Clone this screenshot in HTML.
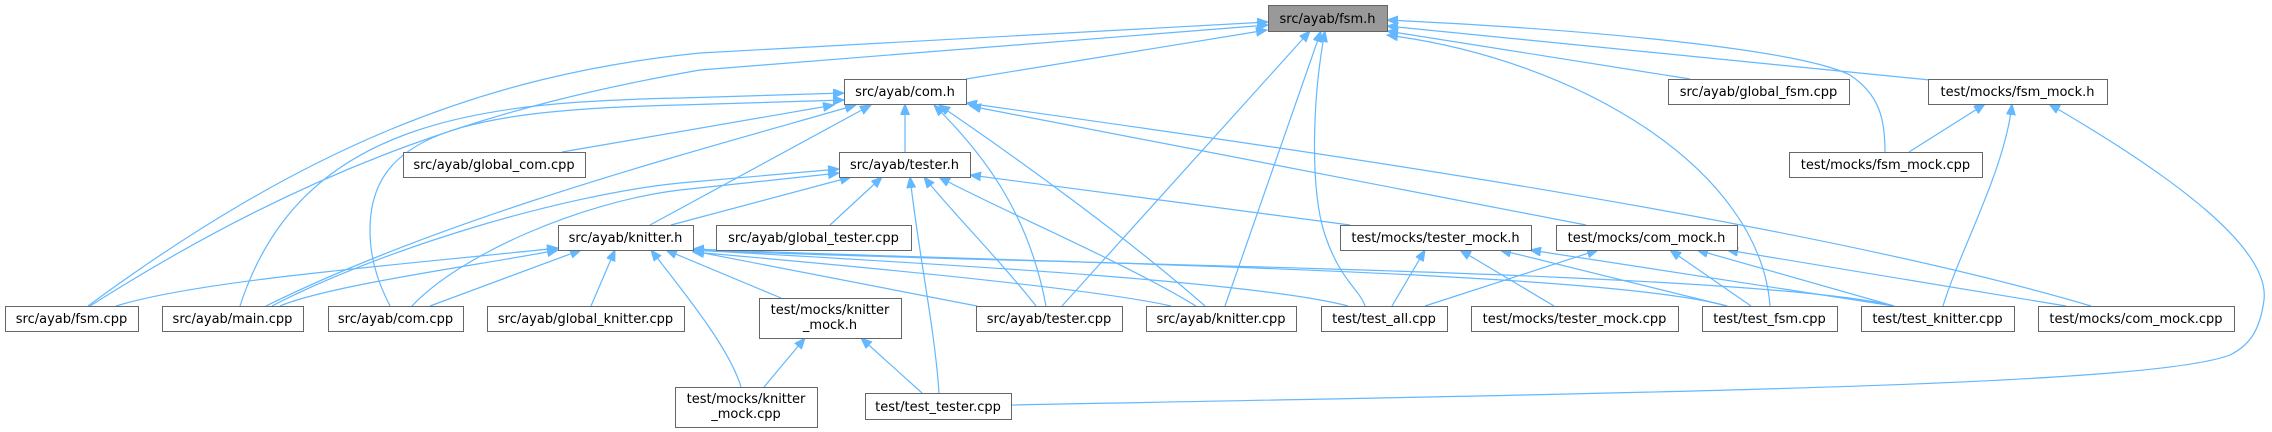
<!DOCTYPE html>
<html><head><meta charset="utf-8"><style>
html,body{margin:0;padding:0;background:#fff;}
svg{display:block;}
text{font-family:"DejaVu Sans","Liberation Sans",sans-serif;font-size:13px;fill:#000;}
</style></head><body>
<svg width="2272" height="432" viewBox="0 0 2272 432" xmlns="http://www.w3.org/2000/svg">
<defs>
<marker id="a" markerUnits="userSpaceOnUse" markerWidth="12" markerHeight="10" refX="11" refY="4.5" orient="auto-start-reverse" viewBox="0 0 12 10">
<path d="M0,0 L11,4.5 L0,9 z" fill="#63b8ff" stroke="#63b8ff" stroke-width="1"/>
</marker>
</defs>
<rect width="2272" height="432" fill="#fff"/>
<g fill="none" stroke="#63b8ff" stroke-width="1.2" marker-start="url(#a)">
<path d="M1267,30 L966,79"/>
<path d="M1268,22 L700,53 C480,75 300,150 88,306"/>
<path d="M1268,25 L700,70 C500,105 320,160 90,306"/>
<path d="M1310,31 L1062,306"/>
<path d="M1321,31 L1225,306"/>
<path d="M1325,31 C1312,100 1310,190 1325,235 S1360,290 1365,306"/>
<path d="M1387,20 C1600,30 1800,50 1850,75 C1880,95 1885,120 1885,152"/>
<path d="M1387,26 L1930,80"/>
<path d="M1387,31 L1690,79"/>
<path d="M1387,35 C1580,60 1760,170 1770,306"/>
<path d="M844,93 L680,98 C480,102 300,120 240,306"/>
<path d="M844,100 L680,105 C460,110 370,135 370,230 C370,265 382,290 390,306"/>
<path d="M834,105 L562,152"/>
<path d="M856,105 C700,150 450,215 266,306"/>
<path d="M905,104 L905,152"/>
<path d="M871,105 L650,225"/>
<path d="M934,105 C990,160 1030,220 1046,306"/>
<path d="M939,105 C1020,160 1130,240 1205,306"/>
<path d="M966,103 C1300,150 1800,220 2091,306"/>
<path d="M970,106 L1586,225"/>
<path d="M839,169 L680,183 C560,195 380,250 272,306"/>
<path d="M839,173 L680,190 C580,202 460,255 412,306"/>
<path d="M851,177 L671,225"/>
<path d="M882,177 L830,225"/>
<path d="M910,177 C918,250 935,330 939,393"/>
<path d="M924,177 C950,210 1000,260 1036,306"/>
<path d="M939,177 C1000,210 1120,260 1196,306"/>
<path d="M970,175 L1350,225"/>
<path d="M558,248 C400,265 200,280 116,306"/>
<path d="M558,250 C480,265 330,285 280,306"/>
<path d="M581,250 L430,306"/>
<path d="M615,250 L591,306"/>
<path d="M651,250 C690,300 730,350 741,387"/>
<path d="M666,250 L781,298"/>
<path d="M693,251 L977,306"/>
<path d="M693,252 C900,270 1100,290 1171,306"/>
<path d="M693,250 C900,262 1250,280 1348,306"/>
<path d="M693,249 C1000,262 1600,270 1727,306"/>
<path d="M693,250 C1000,264 1750,270 1894,306"/>
<path d="M1425,250 L1392,306"/>
<path d="M1460,250 L1554,306"/>
<path d="M1500,250 L1727,306"/>
<path d="M1530,250 L1894,306"/>
<path d="M1598,250 L1425,306"/>
<path d="M1670,250 L1751,306"/>
<path d="M1697,250 L1894,306"/>
<path d="M1727,250 L2066,306"/>
<path d="M1985,104 L1909,152"/>
<path d="M2012,104 C2005,170 1960,250 1943,306"/>
<path d="M2049,104 C2180,180 2270,250 2264,300 C2260,330 2250,345 2230,355 C2150,385 1700,392 1011,405"/>
<path d="M805,338 L764,387"/>
<path d="M861,338 L922,393"/>
</g>
<g fill="#fff" stroke="#666" stroke-width="1">
<rect x="1268.5" y="5.5" width="119" height="26" fill="#999"/>
<rect x="844.5" y="79.5" width="122" height="25"/>
<rect x="1668.5" y="79.5" width="181" height="25"/>
<rect x="1928.5" y="79.5" width="179" height="25"/>
<rect x="839.5" y="152.5" width="131" height="25"/>
<rect x="403.5" y="152.5" width="182" height="25"/>
<rect x="1789.5" y="152.5" width="193" height="25"/>
<rect x="558.5" y="225.5" width="135" height="25"/>
<rect x="716.5" y="225.5" width="195" height="25"/>
<rect x="1340.5" y="225.5" width="191" height="25"/>
<rect x="1556.5" y="225.5" width="181" height="25"/>
<rect x="5.5" y="306.5" width="133" height="25"/>
<rect x="162.5" y="306.5" width="141" height="25"/>
<rect x="328.5" y="306.5" width="135" height="25"/>
<rect x="487.5" y="306.5" width="197" height="25"/>
<rect x="759.5" y="298.5" width="142" height="40"/>
<rect x="976.5" y="306.5" width="146" height="25"/>
<rect x="1146.5" y="306.5" width="150" height="25"/>
<rect x="1321.5" y="306.5" width="126" height="25"/>
<rect x="1471.5" y="306.5" width="207" height="25"/>
<rect x="1702.5" y="306.5" width="135" height="25"/>
<rect x="1861.5" y="306.5" width="153" height="25"/>
<rect x="2038.5" y="306.5" width="196" height="25"/>
<rect x="675.5" y="387.5" width="142" height="40"/>
<rect x="865.5" y="393.5" width="146" height="26"/>
</g>
<g text-anchor="middle">
<text x="1327.5" y="23">src/ayab/fsm.h</text>
<text x="905" y="96">src/ayab/com.h</text>
<text x="1758.5" y="96">src/ayab/global_fsm.cpp</text>
<text x="2017.5" y="96">test/mocks/fsm_mock.h</text>
<text x="904.5" y="169">src/ayab/tester.h</text>
<text x="494" y="169">src/ayab/global_com.cpp</text>
<text x="1885.5" y="169">test/mocks/fsm_mock.cpp</text>
<text x="625.5" y="242">src/ayab/knitter.h</text>
<text x="813.5" y="242">src/ayab/global_tester.cpp</text>
<text x="1435.5" y="242">test/mocks/tester_mock.h</text>
<text x="1646.5" y="242">test/mocks/com_mock.h</text>
<text x="71.5" y="323">src/ayab/fsm.cpp</text>
<text x="232.5" y="323">src/ayab/main.cpp</text>
<text x="395.5" y="323">src/ayab/com.cpp</text>
<text x="585.5" y="323">src/ayab/global_knitter.cpp</text>
<text x="830" y="314">test/mocks/knitter</text>
<text x="830" y="329">_mock.h</text>
<text x="1049" y="323">src/ayab/tester.cpp</text>
<text x="1221" y="323">src/ayab/knitter.cpp</text>
<text x="1384" y="323">test/test_all.cpp</text>
<text x="1574.5" y="323">test/mocks/tester_mock.cpp</text>
<text x="1769.5" y="323">test/test_fsm.cpp</text>
<text x="1937.5" y="323">test/test_knitter.cpp</text>
<text x="2136" y="323">test/mocks/com_mock.cpp</text>
<text x="746" y="403">test/mocks/knitter</text>
<text x="746" y="418">_mock.cpp</text>
<text x="938" y="411">test/test_tester.cpp</text>
</g>
</svg>
</body></html>
